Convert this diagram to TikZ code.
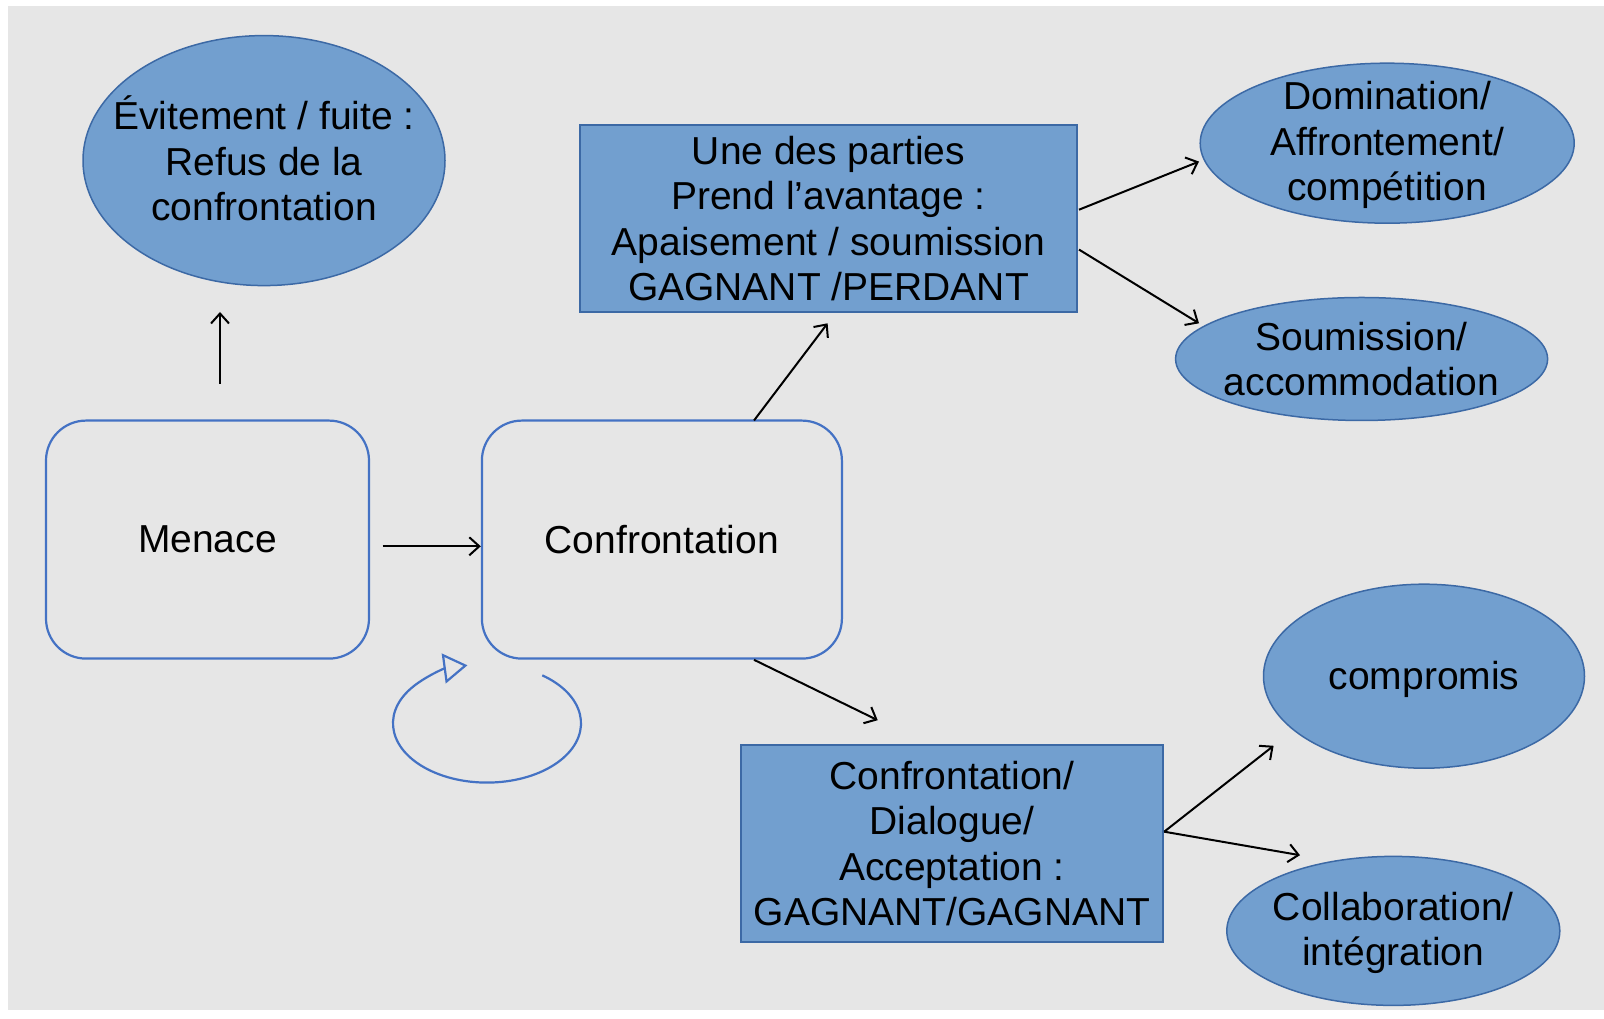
\documentclass[tikz,border=0pt]{standalone}
\usepackage{fontspec}
\setmainfont{Liberation Sans}
\usetikzlibrary{shapes.geometric,arrows.meta,calc}
\definecolor{bg}{RGB}{230,230,230}
\definecolor{shapefill}{RGB}{114,159,207}
\definecolor{shapeline}{RGB}{60,105,165}
\definecolor{boxline}{RGB}{68,114,196}
\tikzset{
  txt/.style={font=\fontsize{39}{45.5}\selectfont, align=center, text=black, inner sep=0pt},
  oval/.style={ellipse, draw=shapeline, fill=shapefill, line width=1.5pt, inner sep=0pt},
  rectbox/.style={txt, rectangle, draw=shapeline, fill=shapefill, line width=1.5pt},
  roundbox/.style={txt, rectangle, rounded corners=40pt, draw=boxline, line width=2.2pt},
  conn/.style={black, line width=2pt, -{Straight Barb[length=10pt, width=18pt, line width=2pt]}},
}
\begin{document}
\begin{tikzpicture}[x=1pt,y=1pt]
\useasboundingbox (0,0) rectangle (1604,1019);
\fill[bg] (8,9) rectangle (1604,1013);

\node[oval, minimum width=362pt, minimum height=250pt] (evit) at (264,858.4) {};
\node[txt] (evitT) at ($(evit.center)+(0,2)$) {Évitement / fuite :\\Refus de la\\confrontation};
\node[roundbox, minimum width=323pt, minimum height=238pt] (menace) at (207.5,479.4) {Menace};
\node[roundbox, minimum width=360pt, minimum height=238pt] (conf) at (661.9,479.4) {Confrontation};
\node[rectbox, minimum width=497pt, minimum height=187pt] (une) at (828.5,800.6) {Une des parties\\Prend l’avantage :\\Apaisement / soumission\\GAGNANT /PERDANT};
\node[oval, minimum width=374pt, minimum height=160pt] (domin) at (1387.2,875.8) {};
\node[txt] (dominT) at ($(domin.center)+(0,-2)$) {Domination/\\Affrontement/\\compétition};
\node[oval, minimum width=372pt, minimum height=123pt] (soum) at (1361.6,660) {};
\node[txt] (soumT) at (soum.center) {Soumission/\\accommodation};
\node[rectbox, minimum width=422pt, minimum height=197pt] (dial) at (952,175.5) {Confrontation/\\Dialogue/\\Acceptation :\\GAGNANT/GAGNANT};
\node[oval, minimum width=321pt, minimum height=184pt] (comp) at (1424,342.8) {};
\node[txt] (compT) at ($(comp.center)+(0,-3)$) {compromis};
\node[oval, minimum width=333pt, minimum height=149pt] (collab) at (1393.3,88.1) {};
\node[txt] (collabT) at ($(collab.center)+(0,-2)$) {Collaboration/\\intégration};

% connector end points
\coordinate (a1) at (220,635.4);
\coordinate (a2) at (220,707);
\coordinate (b1) at (382.6,472.7);
\coordinate (b2) at (480.8,472.7);
\coordinate (c1) at (754,598.5);
\coordinate (c2) at (827.6,695.7);
\coordinate (d1) at (1079,809.3);
\coordinate (d2) at (1199,857.4);
\coordinate (e1) at (1079,769.4);
\coordinate (e2) at (1199,695.7);
\coordinate (f1) at (754,359.2);
\coordinate (f2) at (877.7,298.8);
\coordinate (g1) at (1164.2,187.3);
\coordinate (g2) at (1273.6,273.2);
\coordinate (h2) at (1300,163.8);

\draw[conn] (a1) -- (a2);
\draw[conn] (b1) -- (b2);
\draw[conn] (c1) -- (c2);
\draw[conn] (d1) -- (d2);
\draw[conn] (e1) -- (e2);
\draw[conn] (f1) -- (f2);
\draw[conn] (g1) -- (g2);
\draw[conn] (g1) -- (h2);

% loop
\coordinate (loopc) at (487,295.7);
\coordinate (loops) at ($(loopc)+(54:94 and 59.3)$);
\draw[boxline, line width=2.2pt, -{Triangle[open, length=24pt, width=30pt, line width=2.2pt, fill=bg]}]
  (loops) arc[start angle=54, end angle=-258, x radius=94, y radius=59.3];
\end{tikzpicture}
\end{document}
